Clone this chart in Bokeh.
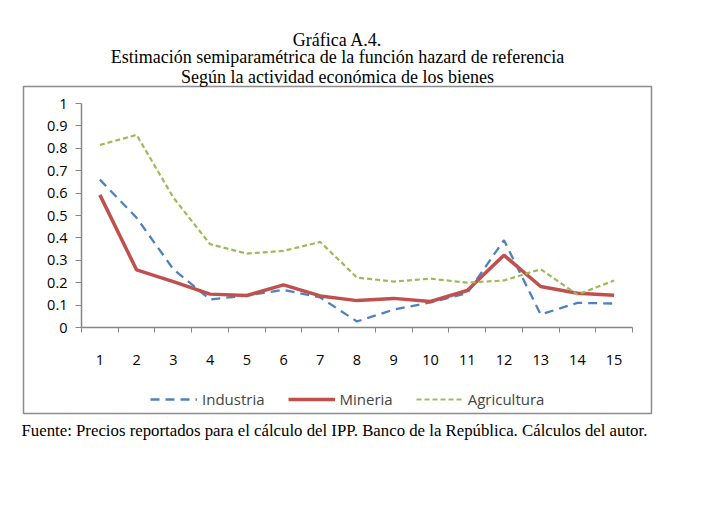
from bokeh.plotting import figure
from bokeh.models import (Range1d, FixedTicker, Legend, LegendItem, Title, LinearAxis)
from bokeh.embed import file_html
from bokeh.resources import INLINE

periods = list(range(1, 16))
industria = [0.66, 0.49, 0.26, 0.125, 0.143, 0.168, 0.134, 0.027, 0.08, 0.112, 0.153, 0.39, 0.058, 0.11, 0.107]
mineria = [0.592, 0.257, 0.205, 0.149, 0.143, 0.19, 0.141, 0.12, 0.13, 0.116, 0.165, 0.323, 0.183, 0.153, 0.144]
agricultura = [0.815, 0.86, 0.58, 0.372, 0.33, 0.342, 0.382, 0.223, 0.205, 0.218, 0.2, 0.21, 0.26, 0.147, 0.21]
y_ticks = [0, 0.1, 0.2, 0.3, 0.4, 0.5, 0.6, 0.7, 0.8, 0.9, 1]
y_labels = ["0", "0.1", "0.2", "0.3", "0.4", "0.5", "0.6", "0.7", "0.8", "0.9", "1"]
title_lines = ["Gráfica A.4.",
               "Estimación semiparamétrica de la función hazard de referencia",
               "Según la actividad económica de los bienes"]
footer = "Fuente: Precios reportados para el cálculo del IPP. Banco de la República. Cálculos del autor."

W, H = 692, 498
# chart box (frame) in figure px
BL, BR, BT, BB = 23, 651, 86, 413
# plot area inside the box in figure px
PL, PR, PT, PB = 81, 632, 103, 327

xmin, xmax = 0.5, 15.5
ymin, ymax = 0.0, 1.0
xs = (PR - PL) / (xmax - xmin)
ys = (PB - PT) / (ymax - ymin)
x_range = Range1d(xmin - (PL - BL) / xs, xmax + (BR - PR) / xs)
y_range = Range1d(ymin - (BB - PB) / ys, ymax + (PT - BT) / ys)

p = figure(width=W, height=H, output_backend="svg", toolbar_location=None,
           x_range=x_range, y_range=y_range,
           x_axis_location=None, y_axis_location=None,
           min_border_left=BL, min_border_right=W - BR,
           min_border_top=BT, min_border_bottom=H - BB)
p.outline_line_color = "#8c8c8c"
p.outline_line_width = 1.5
p.grid.visible = False
p.background_fill_color = "white"
p.border_fill_color = "white"

axis_color = "#868686"
label_font = "Open Sans"

xaxis = LinearAxis(fixed_location=0, bounds=(xmin, xmax),
                   ticker=FixedTicker(ticks=periods, minor_ticks=[i + 0.5 for i in range(0, 16)]))
xaxis.major_tick_out = 0
xaxis.major_tick_in = 0
xaxis.minor_tick_out = 5
xaxis.minor_tick_in = 0
xaxis.minor_tick_line_color = axis_color
xaxis.major_label_standoff = 22

yaxis = LinearAxis(fixed_location=xmin, bounds=(ymin, ymax),
                   ticker=FixedTicker(ticks=y_ticks, minor_ticks=[]))
yaxis.major_label_overrides = {t: l for t, l in zip(y_ticks, y_labels)}
yaxis.major_tick_out = 6
yaxis.major_tick_in = 0
yaxis.major_label_standoff = 8

for ax in (xaxis, yaxis):
    ax.axis_line_color = axis_color
    ax.axis_line_width = 1.5
    ax.major_tick_line_color = axis_color
    ax.major_label_text_font = label_font
    ax.major_label_text_font_size = "14.5px"
    ax.major_label_text_color = "#000000"
p.add_layout(xaxis, "below")
p.add_layout(yaxis, "left")

r_ind = p.line(periods, industria, line_color="#4F81BD", line_width=2.3, line_dash="9 6")
r_min = p.line(periods, mineria, line_color="#C0504D", line_width=3.5)
r_agr = p.line(periods, agricultura, line_color="#9BBB59", line_width=2.2, line_dash="5 3")

legend = Legend(items=[LegendItem(label="Industria", renderers=[r_ind]),
                       LegendItem(label="Mineria", renderers=[r_min]),
                       LegendItem(label="Agricultura", renderers=[r_agr])],
                orientation="horizontal", location=(127, 4),
                label_text_font=label_font, label_text_font_size="15px",
                glyph_width=47, glyph_height=20, label_height=20,
                spacing=23, label_standoff=5,
                background_fill_alpha=0, border_line_color=None, padding=0, margin=0)
p.add_layout(legend, "center")

for i, line in enumerate(reversed(title_lines)):
    p.add_layout(Title(text=line, align="center", text_font="Liberation Serif",
                       text_font_size="18px", text_font_style="normal", text_color="black",
                       standoff=(0 if i == 0 else -5), text_line_height=1.0), "above")

p.add_layout(Title(text=footer, align="left", offset=-2, text_font="Liberation Serif",
                   text_font_size="16.8px", text_font_style="normal", text_color="black",
                   standoff=10), "below")

open("out.html", "w").write(file_html(p, INLINE))
